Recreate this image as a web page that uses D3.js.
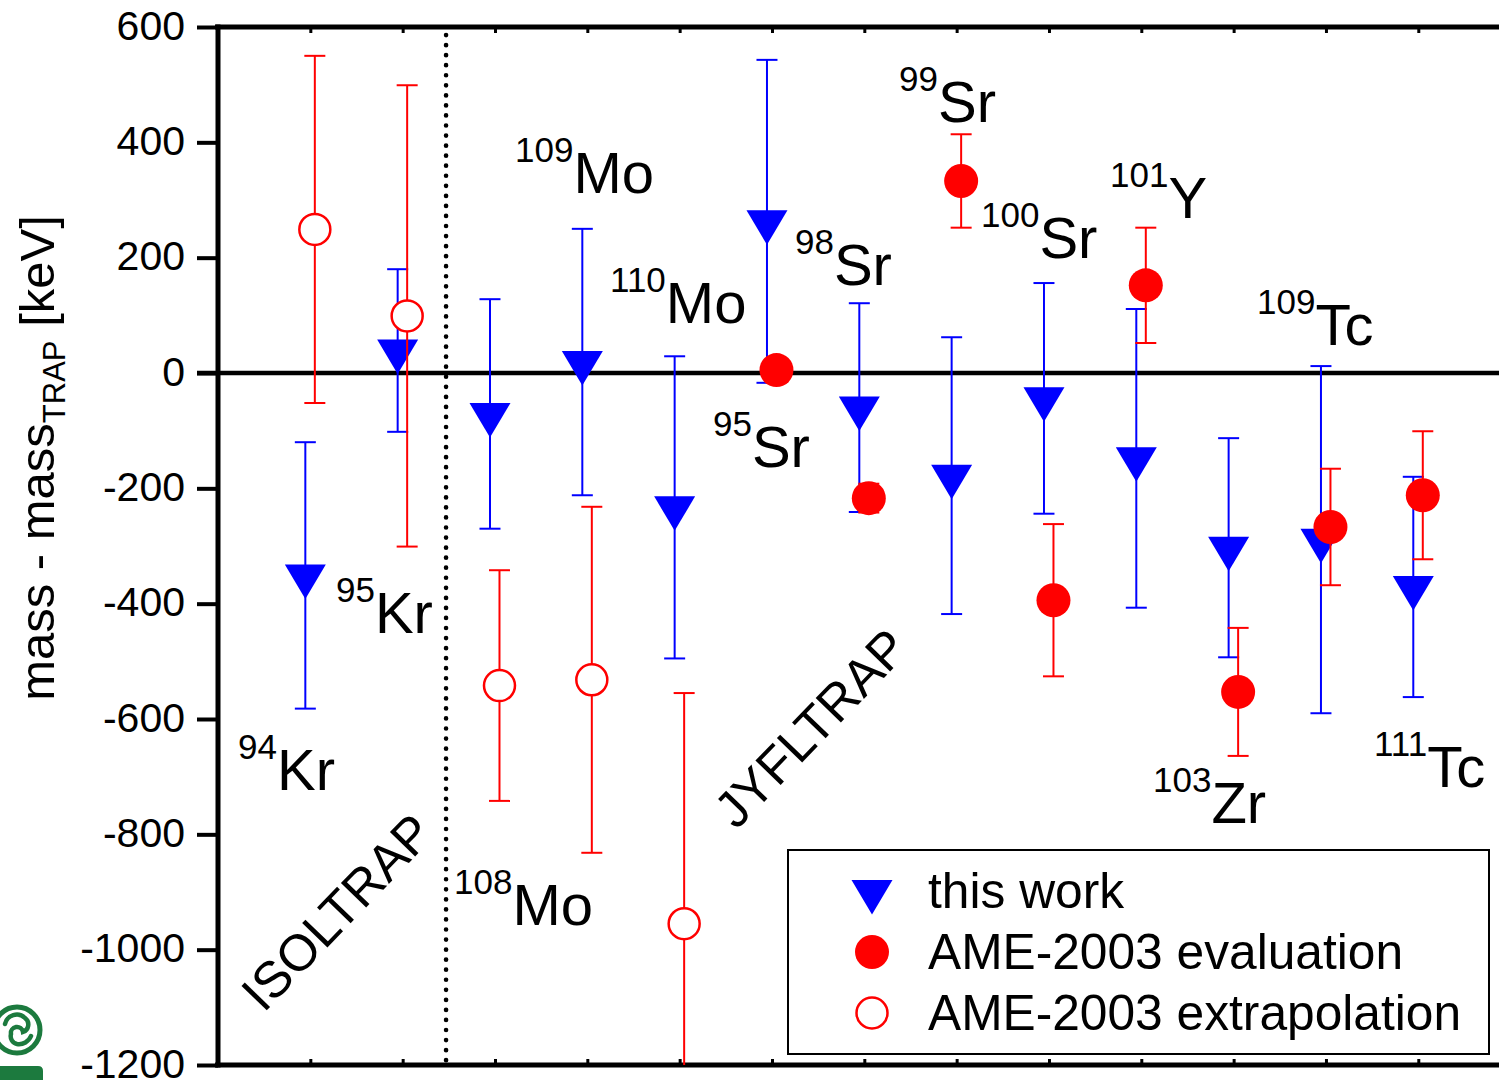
<!DOCTYPE html>
<html>
<head>
<meta charset="utf-8">
<script src="https://cdn.jsdelivr.net/npm/d3@7"></script>
<style>
  html, body { margin: 0; padding: 0; background: #fff; overflow: hidden; }
  svg { display: block; font-family: "Liberation Sans", Arial, Helvetica, sans-serif; }
</style>
</head>
<body>
<svg id="chart" width="1499" height="1080"></svg>
<script>
// ---------------- data ----------------
const categories = ["94Kr","95Kr","108Mo","109Mo","110Mo","95Sr","98Sr","99Sr","100Sr","101Y","103Zr","109Tc","111Tc"];
const thisWork    = [-351, 39, -71, 19, -233, 263, -60, -178, -44, -148, -303, -289, -371];
const thisWorkErr = [231, 141, 199, 231, 262, 280, 181, 240, 200, 259, 190, 301, 191];
const ameValue    = [249, 99, -542, -532, -955, 5, -217, 333, -394, 152, -553, -267, -212];
const ameErr      = [301, 400, 200, 300, 400, 10, 25, 81, 132, 100, 111, 101, 111];
const ameType     = ["extrapolation","extrapolation","extrapolation","extrapolation","extrapolation",
                     "evaluation","evaluation","evaluation","evaluation","evaluation","evaluation","evaluation","evaluation"];
const yTicks      = [-1200, -1000, -800, -600, -400, -200, 0, 200, 400, 600];
const labelMass   = ["94","95","108","109","110","95","98","99","100","101","103","109","111"];
const labelElem   = ["Kr","Kr","Mo","Mo","Mo","Sr","Sr","Sr","Sr","Y","Zr","Tc","Tc"];
// label anchors in data units (x: category axis units, y: keV)
const labelX      = [0.217, 1.278, 2.556, 3.217, 4.246, 5.361, 6.249, 7.376, 8.264, 9.661, 10.127, 11.253, 12.520];
const labelY      = [-723, -451, -957, 312, 87, -163, 153, 435, 199, 269, -780, 49, -718];
const regionNames = ["ISOLTRAP", "JYFLTRAP"];
const regionX     = [1.29, 6.423];
const regionY     = [-935, -616];
const separatorAt = 2.47;
const legendNames = ["this work", "AME-2003 evaluation", "AME-2003 extrapolation"];

// ---------------- layout ----------------
const svg = d3.select("#chart");
const W = 1499, H = 1080;
const pLeft = 218, pTop = 27, pBottom = 1065, step = 92.33;
const x = d3.scaleLinear().domain([0, 14]).range([pLeft, pLeft + step * 14]);
const y = d3.scaleLinear().domain([-1200, 600]).range([pBottom, pTop]);
const BLUE = "#0000ff", RED = "#ff0000";
const blueOff = -5, redOff = 4.5;

svg.append("rect").attr("width", W).attr("height", H).attr("fill", "#fff");

const defs = svg.append("defs");
defs.append("clipPath").attr("id", "plotclip")
  .append("rect").attr("x", pLeft).attr("y", pTop).attr("width", W - pLeft).attr("height", pBottom - pTop);

// ---------------- logo (partial, bottom-left) ----------------
const GREEN = "#1c7a3e";
const logo = svg.append("g").attr("transform", "translate(17,1030)");
logo.append("circle").attr("r", 23).attr("fill", "none").attr("stroke", GREEN).attr("stroke-width", 5);
logo.append("path")
  .attr("d", "M -12 -6 A 12 12 0 0 1 8 -12 A 8 8 0 0 1 6 2 A 6 6 0 0 0 -6 4 A 8 8 0 0 0 0 14 A 13 13 0 0 0 14 6")
  .attr("fill", "none").attr("stroke", GREEN).attr("stroke-width", 4.5).attr("stroke-linecap", "round");
svg.append("path").attr("d", "M 0 1066 L 38 1066 Q 43 1066 43 1071 L 43 1080 L 0 1080 Z").attr("fill", GREEN);

// ---------------- axes ----------------
const yAxis = d3.axisLeft(y).tickValues(yTicks).tickSize(21).tickPadding(12).tickFormat(d3.format("d"));
const gy = svg.append("g").attr("transform", `translate(${pLeft},0)`).call(yAxis);
gy.select(".domain").remove();
gy.selectAll(".tick line").attr("stroke", "#000").attr("stroke-width", 4);
gy.selectAll(".tick text").attr("font-size", 41).attr("fill", "#000")
  .attr("font-family", "Liberation Sans, Arial, sans-serif")
  .attr("dy", "0.3em")
  .text(d => d < 0 ? "-" + Math.abs(d) : d);

// frame lines
svg.append("line").attr("x1", pLeft).attr("x2", pLeft).attr("y1", pTop - 2.5).attr("y2", pBottom + 2.5)
  .attr("stroke", "#000").attr("stroke-width", 5);
svg.append("line").attr("x1", pLeft - 3).attr("x2", W).attr("y1", pTop).attr("y2", pTop)
  .attr("stroke", "#000").attr("stroke-width", 5);
svg.append("line").attr("x1", pLeft - 3).attr("x2", W).attr("y1", pBottom).attr("y2", pBottom)
  .attr("stroke", "#000").attr("stroke-width", 5);

// minor category ticks on top and bottom
const catIdx = categories.map((c, i) => i + 1);
const topAxis = d3.axisBottom(x).tickValues(catIdx).tickSize(6).tickFormat("");
const gt = svg.append("g").attr("transform", `translate(0,${pTop})`).call(topAxis);
gt.select(".domain").remove();
gt.selectAll(".tick line").attr("stroke", "#000").attr("stroke-width", 3);
const botAxis = d3.axisTop(x).tickValues(catIdx).tickSize(6).tickFormat("");
const gb = svg.append("g").attr("transform", `translate(0,${pBottom})`).call(botAxis);
gb.select(".domain").remove();
gb.selectAll(".tick line").attr("stroke", "#000").attr("stroke-width", 3);

// zero line
svg.append("line").attr("x1", pLeft - 21).attr("x2", W).attr("y1", y(0)).attr("y2", y(0))
  .attr("stroke", "#000").attr("stroke-width", 4.5);

// separator (dotted)
svg.append("line").attr("x1", x(separatorAt)).attr("x2", x(separatorAt))
  .attr("y1", pTop + 8).attr("y2", pBottom - 4)
  .attr("stroke", "#000").attr("stroke-width", 4.6).attr("stroke-linecap", "round")
  .attr("stroke-dasharray", "0.1 9.95");

// y axis title
const yt = svg.append("text")
  .attr("transform", `translate(54,458) rotate(-90)`)
  .attr("text-anchor", "middle").attr("font-size", 49).attr("fill", "#000");
yt.append("tspan").text("mass - mass");
yt.append("tspan").attr("font-size", 31).attr("dy", 11).text("TRAP");
yt.append("tspan").attr("dy", -11).text(" [keV]");

// ---------------- data marks ----------------
const plot = svg.append("g").attr("clip-path", "url(#plotclip)");

function errBars(g, vals, errs, off, color) {
  const cap = 10.5;
  vals.forEach((v, i) => {
    const cx = x(i + 1) + off;
    const e = errs[i];
    g.append("line").attr("x1", cx).attr("x2", cx).attr("y1", y(v - e)).attr("y2", y(v + e))
      .attr("stroke", color).attr("stroke-width", 2);
    [v - e, v + e].forEach(t => {
      g.append("line").attr("x1", cx - cap).attr("x2", cx + cap).attr("y1", y(t)).attr("y2", y(t))
        .attr("stroke", color).attr("stroke-width", 2);
    });
  });
}

const triPath = "M -20.5 -11 L 20.5 -11 L 0 23.5 Z";

// this work (blue, down triangles)
const gBlue = plot.append("g");
errBars(gBlue, thisWork, thisWorkErr, blueOff, BLUE);
gBlue.selectAll("path.tri").data(thisWork).join("path").attr("class", "tri")
  .attr("d", triPath)
  .attr("transform", (d, i) => `translate(${x(i + 1) + blueOff},${y(d)})`)
  .attr("fill", BLUE);

// AME-2003 (red circles)
const gRed = plot.append("g");
errBars(gRed, ameValue, ameErr, redOff, RED);
gRed.selectAll("circle.ame").data(ameValue).join("circle").attr("class", "ame")
  .attr("cx", (d, i) => x(i + 1) + redOff)
  .attr("cy", d => y(d))
  .attr("r", (d, i) => ameType[i] === "evaluation" ? 17 : 15.5)
  .attr("fill", (d, i) => ameType[i] === "evaluation" ? RED : "#fff")
  .attr("stroke", RED)
  .attr("stroke-width", (d, i) => ameType[i] === "evaluation" ? 0 : 2.5);

// ---------------- isotope labels ----------------
categories.forEach((c, i) => {
  const t = svg.append("text").attr("x", x(labelX[i])).attr("y", y(labelY[i])).attr("fill", "#000");
  t.append("tspan").attr("font-size", 35).attr("dy", -31).text(labelMass[i]);
  t.append("tspan").attr("font-size", 58).attr("dy", 31).text(labelElem[i]);
});

// region names
regionNames.forEach((n, i) => {
  svg.append("text")
    .attr("transform", `translate(${x(regionX[i])},${y(regionY[i])}) rotate(-46)`)
    .attr("text-anchor", "middle").attr("dominant-baseline", "central")
    .attr("font-size", 51).attr("fill", "#000").text(n);
});

// ---------------- legend ----------------
const lg = svg.append("g");
lg.append("rect").attr("x", 788).attr("y", 850).attr("width", 701).attr("height", 204)
  .attr("fill", "#fff").attr("stroke", "#000").attr("stroke-width", 2);
const rowsY = [891, 952, 1013];
lg.append("path").attr("d", triPath).attr("transform", `translate(872,${rowsY[0]})`).attr("fill", BLUE);
lg.append("circle").attr("cx", 872).attr("cy", rowsY[1]).attr("r", 17).attr("fill", RED);
lg.append("circle").attr("cx", 872).attr("cy", rowsY[2]).attr("r", 15.5).attr("fill", "#fff")
  .attr("stroke", RED).attr("stroke-width", 2.5);
legendNames.forEach((n, i) => {
  lg.append("text").attr("x", 928).attr("y", rowsY[i] + 17).attr("font-size", 49.7).attr("fill", "#000").text(n);
});
</script>
</body>
</html>
